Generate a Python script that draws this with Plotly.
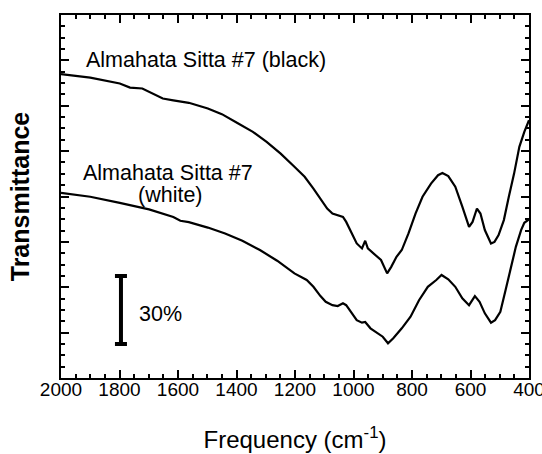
import plotly.graph_objects as go

# Frequency (cm^-1) and transmittance (arbitrary offset %)
freq_black = [2000, 1900, 1799, 1764, 1722, 1687, 1652, 1616, 1563, 1498, 1450, 1397, 1344, 1297,
              1249, 1202, 1167, 1137, 1113, 1090, 1072, 1036, 1025, 1007, 989, 971, 960, 951, 930,
              906, 885, 871, 853, 835, 812, 788, 764, 735, 711, 696, 676, 652, 628, 605, 593, 578,
              566, 551, 530, 518, 504, 486, 469, 451, 433, 416, 400]
trans_black = [133.9, 132.4, 129.8, 128.0, 127.6, 125.4, 123.2, 122.4, 121.3, 118.8, 116.3, 112.4,
               108.5, 104.1, 98.9, 93.1, 88.7, 83.5, 79.1, 74.7, 72.5, 71.0, 68.8, 63.7, 59.3, 57.1,
               60.5, 57.1, 54.9, 52.0, 46.1, 49.0, 53.4, 56.4, 63.7, 72.5, 79.9, 85.7, 89.4, 90.4,
               89.0, 84.3, 75.5, 66.6, 68.8, 74.7, 72.5, 65.2, 59.3, 60.0, 63.0, 69.6, 79.9, 90.1,
               101.9, 108.5, 113.6]

freq_white = [2000, 1900, 1799, 1699, 1616, 1592, 1563, 1498, 1439, 1380, 1320, 1261, 1202, 1160,
              1137, 1113, 1095, 1072, 1054, 1036, 1025, 1007, 989, 971, 960, 942, 918, 900, 882,
              864, 835, 805, 776, 746, 717, 699, 676, 652, 628, 605, 585, 569, 551, 530, 516, 498,
              480, 463, 445, 427, 416, 400]
trans_white = [81.6, 79.9, 77.2, 74.3, 71.0, 69.3, 68.7, 66.3, 63.7, 60.5, 56.4, 51.7, 46.1, 43.2,
               40.2, 36.1, 33.6, 32.1, 31.7, 32.9, 32.1, 28.5, 25.5, 24.4, 24.7, 21.9, 19.7, 18.2,
               15.3, 17.5, 21.9, 27.0, 34.3, 40.2, 43.2, 45.4, 43.5, 40.2, 35.1, 32.1, 36.1, 33.6,
               28.5, 24.4, 25.5, 29.2, 38.8, 47.6, 57.8, 65.2, 68.4, 69.9]

# Scale bar: 30 % span centred on 30
scale_x = [1795]
scale_mid = [30]
scale_half = [15]

x_ticks = [2000, 1800, 1600, 1400, 1200, 1000, 800, 600, 400]

FONT = "Arial, Liberation Sans, sans-serif"

fig = go.Figure()
fig.add_trace(go.Scatter(x=freq_black, y=trans_black, mode="lines",
                         line=dict(color="black", width=2.2), showlegend=False))
fig.add_trace(go.Scatter(x=freq_white, y=trans_white, mode="lines",
                         line=dict(color="black", width=2.2), showlegend=False))
fig.add_trace(go.Scatter(x=scale_x, y=scale_mid, mode="markers",
                         marker=dict(size=0.1, color="black", opacity=0),
                         error_y=dict(type="data", array=scale_half, symmetric=True,
                                      color="black", thickness=4, width=6),
                         showlegend=False))

fig.add_annotation(x=1506, y=140, text="Almahata Sitta #7 (black)", showarrow=False,
                   font=dict(family=FONT, size=21.5, color="black"))
fig.add_annotation(x=1633, y=90.5, text="Almahata Sitta #7", showarrow=False,
                   font=dict(family=FONT, size=21.5, color="black"))
fig.add_annotation(x=1625, y=80.5, text="(white)", showarrow=False,
                   font=dict(family=FONT, size=21.5, color="black"))
fig.add_annotation(x=1660, y=28.4, text="30%", showarrow=False,
                   font=dict(family=FONT, size=21.5, color="black"))

fig.update_layout(
    template="none",
    width=542, height=454,
    margin=dict(l=60.5, r=13, t=14.5, b=76, autoexpand=False),
    paper_bgcolor="white", plot_bgcolor="white",
    font=dict(family=FONT, color="black"),
    hovermode=False,
    xaxis=dict(
        automargin=False,
        range=[2000, 400], tickvals=x_ticks, ticktext=[str(v) for v in x_ticks],
        ticks="inside", ticklen=8, tickwidth=1.5, tickcolor="black",
        minor=dict(dtick=50, ticks="inside", ticklen=4, tickwidth=1.5, tickcolor="black"),
        showline=True, linewidth=2, linecolor="black", mirror="allticks",
        showgrid=False, zeroline=False, ticklabeloverflow="allow",
        ticklabelstandoff=-7,
        tickfont=dict(family=FONT, size=19, color="black"),
        title=dict(text="Frequency (cm<sup>-1</sup>)", standoff=32,
                   font=dict(family=FONT, size=24, color="black")),
    ),
    yaxis=dict(
        automargin=False,
        range=[0, 160], dtick=20, tick0=0, showticklabels=False,
        ticks="inside", ticklen=8, tickwidth=1.5, tickcolor="black",
        minor=dict(dtick=5, ticks="inside", ticklen=4, tickwidth=1.5, tickcolor="black"),
        showline=True, linewidth=2, linecolor="black", mirror="allticks",
        showgrid=False, zeroline=False,
        title=dict(text="<b>Transmittance</b>", standoff=22,
                   font=dict(family=FONT, size=25, color="black")),
    ),
)

fig.write_html("out.html", config={"displayModeBar": False},
               post_script="document.body.style.margin='0px';")
